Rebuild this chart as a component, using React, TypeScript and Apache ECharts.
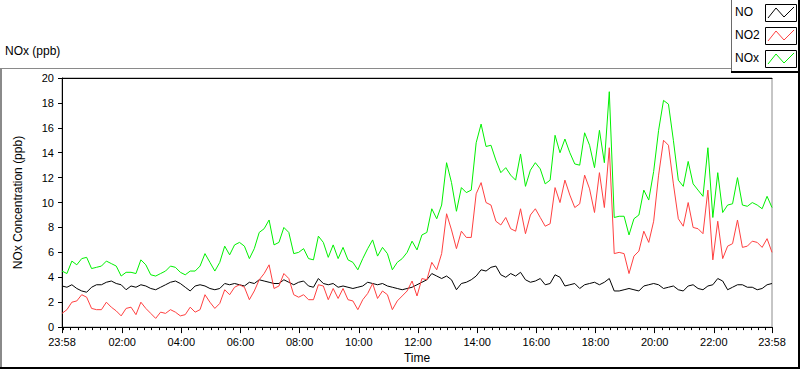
import React, { useEffect, useRef } from "react";
import * as echarts from "echarts";

// Chart start is 23:58 of the previous day; samples every 10 minutes.
const START_CLOCK_MIN = 23 * 60 + 58;
const SAMPLE_STEP_MIN = 10;

const seriesNames = ["NO", "NO2", "NOx"];
const seriesColors = ["#000000", "#ff4040", "#00f000"];

const noValues = [
  3.3, 3.2, 3.4, 3.1, 2.9, 2.8, 3.2, 3.4, 3.4, 3.6, 3.7, 3.5, 3.4, 3.0, 3.3, 3.2, 3.4, 3.3, 3.1, 3.0, 3.2, 3.4, 3.6, 3.7,
  3.5, 3.2, 2.9, 3.3, 3.4, 3.3, 3.1, 3.0, 3.1, 3.5, 3.4, 3.5, 3.4, 3.3, 3.6, 3.5, 3.8, 3.7, 3.6, 3.5, 3.5, 3.8, 3.6, 3.4,
  3.6, 3.7, 3.3, 3.2, 3.9, 3.5, 3.4, 3.5, 3.2, 3.3, 3.2, 3.1, 3.2, 3.3, 3.6, 3.5, 3.4, 3.5, 3.3, 3.2, 3.1, 3.0, 3.1, 3.2,
  3.4, 3.6, 3.8, 4.3, 4.1, 3.9, 4.1, 3.8, 3.0, 3.5, 3.6, 3.8, 4.1, 4.6, 4.5, 4.8, 4.9, 4.2, 4.0, 4.3, 4.1, 4.4, 3.8, 3.6,
  3.7, 3.9, 3.4, 3.5, 4.2, 4.0, 3.3, 3.4, 3.5, 3.1, 3.4, 3.5, 3.6, 3.4, 3.6, 3.9, 2.9, 2.9, 3.0, 3.1, 3.0, 2.9, 3.3, 3.4,
  3.5, 3.4, 3.1, 3.2, 3.3, 3.0, 2.9, 3.3, 3.4, 3.1, 3.0, 3.3, 3.4, 3.9, 3.7, 3.0, 3.2, 3.4, 3.4, 3.2, 3.2, 3.0, 3.1, 3.4, 3.5,
];

const no2Values = [
  1.1, 1.4, 2.0, 2.1, 2.6, 2.4, 1.5, 1.4, 1.4, 2.0, 1.6, 1.3, 0.9, 1.5, 1.6, 1.0, 2.0, 1.5, 1.1, 0.7, 1.2, 1.1, 1.4, 1.2,
  0.9, 1.0, 1.6, 1.2, 1.4, 2.6, 2.0, 1.5, 1.9, 3.0, 2.6, 3.2, 3.4, 3.2, 2.2, 2.9, 3.8, 4.3, 5.0, 3.1, 3.3, 4.3, 3.9, 2.6,
  2.4, 2.6, 2.2, 2.2, 3.4, 3.3, 2.2, 3.1, 2.3, 3.1, 2.2, 2.1, 1.4, 2.2, 2.7, 3.5, 2.3, 2.9, 2.6, 1.4, 2.1, 2.5, 2.9, 3.7,
  2.5, 3.9, 3.8, 5.2, 4.6, 5.9, 9.1, 7.8, 6.3, 7.7, 7.2, 7.2, 10.7, 11.6, 10.0, 9.8, 8.5, 8.2, 8.8, 7.9, 7.7, 9.5, 7.5, 9.0,
  9.5, 8.8, 8.1, 8.3, 11.2, 10.0, 11.8, 10.6, 9.6, 9.9, 12.2, 11.1, 9.2, 12.4, 9.6, 14.4, 5.9, 6.0, 5.9, 4.3, 5.7, 6.1, 7.7, 6.8,
  8.5, 12.2, 15.0, 14.6, 11.5, 8.7, 8.1, 10.0, 8.0, 7.9, 7.5, 11.0, 5.4, 8.5, 5.5, 6.5, 6.7, 8.6, 6.4, 6.5, 6.9, 6.8, 6.4, 7.1, 6.0,
];

const noxValues = [
  4.5, 4.3, 5.3, 5.0, 5.5, 5.6, 4.7, 4.8, 4.9, 5.3, 5.1, 4.9, 4.1, 4.4, 4.4, 4.3, 5.4, 5.0, 4.2, 4.1, 4.3, 4.5, 4.9, 4.8,
  4.4, 4.2, 4.5, 4.5, 4.9, 5.9, 5.2, 4.5, 5.2, 6.5, 5.8, 6.6, 6.8, 6.5, 5.5, 6.3, 7.6, 7.9, 8.6, 6.6, 6.8, 8.0, 7.6, 5.9,
  6.0, 6.3, 5.5, 5.4, 7.3, 6.8, 5.6, 6.6, 5.5, 6.4, 5.4, 5.2, 4.6, 5.5, 6.3, 7.0, 5.7, 6.4, 5.9, 4.6, 5.2, 5.5, 6.0, 6.9,
  6.2, 7.4, 7.6, 9.5, 8.7, 9.8, 13.2, 11.6, 9.3, 11.2, 10.8, 11.0, 14.8, 16.3, 14.5, 14.6, 13.4, 12.4, 12.8, 12.2, 11.8, 13.9, 11.3, 12.6,
  13.2, 12.7, 11.5, 11.8, 15.4, 14.0, 15.1, 14.0, 13.1, 13.0, 15.6, 14.6, 12.8, 15.8, 13.2, 18.9, 8.8, 8.9, 8.9, 7.4, 8.7, 9.0, 11.0, 10.2,
  12.5, 15.8, 18.2, 17.9, 15.0, 11.8, 11.3, 13.3, 11.5, 11.0, 10.5, 14.4, 8.8, 12.4, 9.2, 9.8, 9.9, 12.0, 9.8, 9.7, 10.0, 9.8, 9.5, 10.5, 9.6,
];

// Tick labels, as minutes elapsed since 23:58
const xLabelMinutes = [0, 122, 242, 362, 482, 602, 722, 842, 962, 1082, 1202, 1322, 1440];
const X_MAX = 1440;
const MINOR_TICK_STEP = 15;

const FONT = "Tahoma, 'Liberation Sans', Arial, sans-serif";

function clock(v: number): string {
  const m = (START_CLOCK_MIN + Math.round(v)) % 1440;
  const hh = Math.floor(m / 60);
  const mm = m % 60;
  return String(hh).padStart(2, "0") + ":" + String(mm).padStart(2, "0");
}

export default function App() {
  const ref = useRef<HTMLDivElement>(null);

  useEffect(() => {
    document.body.style.margin = "0";
    if (!ref.current) return;
    const chart = echarts.init(ref.current, undefined, { renderer: "svg" });

    const allValues = [noValues, no2Values, noxValues];
    const minorTicks: number[] = [];
    for (let t = 2; t < X_MAX; t += MINOR_TICK_STEP) minorTicks.push(t);

    const legendItems: any[] = [];
    seriesNames.forEach((name, i) => {
      const top = 4 + i * 23;
      legendItems.push({
        type: "text",
        left: 735,
        top: top + 2,
        style: { text: name, fill: "#000", font: `12px ${FONT}` },
      });
      legendItems.push({
        type: "rect",
        shape: { x: 765.5, y: top + 0.5, width: 31, height: 17 },
        style: { fill: "#fff", stroke: "#000", lineWidth: 1 },
      });
      legendItems.push({
        type: "polyline",
        shape: {
          points: [
            [768, top + 14],
            [776, top + 4],
            [784, top + 13],
            [794, top + 3],
          ],
        },
        style: { stroke: seriesColors[i], lineWidth: 1, fill: "none" },
      });
    });

    chart.setOption({
      animation: false,
      backgroundColor: "#ffffff",
      grid: {
        left: 62,
        right: 28,
        top: 78,
        bottom: 40,
        show: true,
        borderColor: "#8c8c8c",
        borderWidth: 1,
        backgroundColor: "transparent",
      },
      xAxis: [
        {
          type: "value",
          min: 0,
          max: X_MAX,
          position: "bottom",
          name: "Time",
          nameLocation: "middle",
          nameGap: 24,
          nameTextStyle: { color: "#000", fontSize: 12, fontFamily: FONT },
          axisLine: { show: true, lineStyle: { color: "#000", width: 1 } },
          axisTick: { show: true, customValues: xLabelMinutes, length: 6, lineStyle: { color: "#000" } },
          axisLabel: {
            show: true,
            customValues: xLabelMinutes,
            formatter: (v: number) => clock(v),
            color: "#000",
            fontSize: 11,
            fontFamily: FONT,
            margin: 9,
            hideOverlap: false,
            showMinLabel: true,
            showMaxLabel: true,
          },
          splitLine: { show: false },
        },
        {
          type: "value",
          min: 0,
          max: X_MAX,
          position: "bottom",
          axisLine: { show: false },
          axisTick: { show: true, customValues: minorTicks, length: 3, lineStyle: { color: "#000" } },
          axisLabel: { show: false },
          splitLine: { show: false },
        },
        {
          type: "value",
          min: 0,
          max: X_MAX,
          position: "top",
          axisLine: { show: true, lineStyle: { color: "#000", width: 1 } },
          axisTick: { show: false },
          axisLabel: { show: false },
          splitLine: { show: false },
        },
      ],
      yAxis: {
        type: "value",
        min: 0,
        max: 20,
        interval: 2,
        name: "NOx Concentration (ppb)",
        nameLocation: "middle",
        nameGap: 38,
        nameRotate: 90,
        nameTextStyle: { color: "#000", fontSize: 12, fontFamily: FONT },
        axisLine: { show: true, lineStyle: { color: "#000", width: 1 } },
        axisTick: { show: true, length: 4, lineStyle: { color: "#000" } },
        axisLabel: { color: "#000", fontSize: 11, fontFamily: FONT, margin: 8 },
        splitLine: { show: false },
      },
      series: seriesNames.map((name, i) => ({
        name,
        type: "line",
        xAxisIndex: 0,
        data: allValues[i].map((v, k) => [k * SAMPLE_STEP_MIN, v]),
        showSymbol: false,
        symbol: "none",
        lineStyle: { color: seriesColors[i], width: 1 },
        itemStyle: { color: seriesColors[i] },
        z: 2 + i,
      })),
      graphic: [
        {
          type: "text",
          left: 5,
          top: 45,
          style: { text: "NOx (ppb)", fill: "#000", font: `12px ${FONT}` },
        },
        // outer frame
        { type: "line", shape: { x1: 0, y1: 68.5, x2: 731, y2: 68.5 }, style: { stroke: "#8a8a8a", lineWidth: 1 } },
        { type: "line", shape: { x1: 1, y1: 68, x2: 1, y2: 369 }, style: { stroke: "#8a8a8a", lineWidth: 2 } },
        { type: "line", shape: { x1: 0, y1: 368, x2: 800, y2: 368 }, style: { stroke: "#000", lineWidth: 2 } },
        { type: "line", shape: { x1: 799, y1: 72, x2: 799, y2: 369 }, style: { stroke: "#000", lineWidth: 2 } },
        // legend panel
        { type: "line", shape: { x1: 731.5, y1: 0, x2: 731.5, y2: 72 }, style: { stroke: "#6a6a6a", lineWidth: 1 } },
        { type: "line", shape: { x1: 731, y1: 72, x2: 800, y2: 72 }, style: { stroke: "#000", lineWidth: 2 } },
        { type: "line", shape: { x1: 799, y1: 0, x2: 799, y2: 72 }, style: { stroke: "#000", lineWidth: 2 } },
        ...legendItems,
      ],
    });

    return () => chart.dispose();
  }, []);

  return (
    <div
      ref={ref}
      style={{ position: "absolute", left: 0, top: 0, width: 800, height: 369, background: "#fff" }}
    />
  );
}
